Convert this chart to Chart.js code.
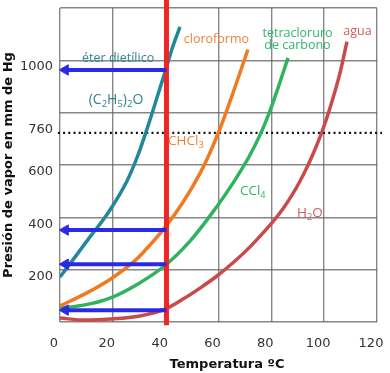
<!DOCTYPE html>
<html><head><meta charset="utf-8">
<script src="https://cdn.jsdelivr.net/npm/chart.js@4/dist/chart.umd.min.js"></script>
<style>html,body{margin:0;padding:0;background:#fff;}</style>
</head><body>
<canvas id="c" width="390" height="373"></canvas>
<script>
// ---- data ----
const tempTicks = [0, 20, 40, 60, 80, 100, 120];
const presTicks = [200, 400, 600, 760, 1000];

const etherTemp = [0, 5.68, 11.36, 18.17, 25.36, 29.53, 32.93, 35.96, 39.75, 42.39, 45.42];
const etherPres = [199, 275, 352, 443, 565, 664, 763, 858, 980, 1068, 1152];

const chloroTemp = [0, 9.46, 18.93, 27.63, 31.04, 39.75, 46.56, 52.99, 57.52, 61.31, 64.71, 67.74, 71.15];
const chloroPres = [89, 135, 190, 255, 288, 388, 484, 594, 690, 784, 878, 966, 1066];

const cclTemp = [0, 9.46, 18.93, 29.53, 39.75, 49.21, 56.78, 65.48, 71.92, 76.46, 79.49, 82.52, 86.31];
const cclPres = [81, 93, 119, 173, 243, 336, 432, 557, 664, 757, 832, 919, 1034];

const waterTemp = [0, 9.46, 18.93, 30.28, 39.75, 46.56, 53.0, 59.43, 66.24, 71.92, 76.84, 80.62, 84.41, 87.81, 90.84, 93.87, 96.52, 99.17, 102.2, 105.98, 108.63];
const waterPres = [43, 35, 39, 51, 77, 115, 157, 203, 260, 314, 367, 410, 459, 511, 564, 625, 685, 752, 843, 976, 1096];

const markerTemp = [40.3, 40.3];
const markerPres = [1262, 15];

const arrowPres = [988, 378, 248, 73];
const arrowTemp = [2.0, 40.3];

const refTemp = [-0.8, 121.9];
const refPres = [748, 748];

// ---- build ----
const pts = (xs, ys) => xs.map((x, i) => ({x, y: ys[i]}));
const BLUE = '#2a2ae2';
const GRID = 'rgba(95,95,95,0.75)';
const NONE = 'rgba(0,0,0,0)';

const curve = (label, xs, ys, color) => ({
  label, data: pts(xs, ys), borderColor: color, borderWidth: 3.5,
  pointRadius: 0, cubicInterpolationMode: 'monotone', yAxisID: 'y', order: 2
});

const datasets = [
  curve('ether', etherTemp, etherPres, '#22879a'),
  curve('chloroform', chloroTemp, chloroPres, '#f07a22'),
  curve('ccl4', cclTemp, cclPres, '#2fb35e'),
  curve('water', waterTemp, waterPres, '#c84a4a'),
  { label: 'marker', data: pts(markerTemp, markerPres), borderColor: '#ee2626', borderWidth: 5,
    pointRadius: 0, yAxisID: 'y', clip: false, order: 1 },
  { label: 'ref', data: pts(refTemp, refPres), borderColor: '#111', borderWidth: 2.2,
    borderDash: [2, 3.2], pointRadius: 0, yAxisID: 'y', clip: false, order: 3 },
  ...arrowPres.map(p => ({
    label: 'arrow', data: arrowTemp.map(t => ({x: t, y: p})), borderColor: BLUE, borderWidth: 4,
    pointRadius: [6, 0], pointStyle: 'triangle', pointRotation: -90,
    pointBackgroundColor: BLUE, pointBorderColor: BLUE, pointBorderWidth: 1,
    yAxisID: 'y', clip: false, order: 0
  }))
];

const annotations = [
  {parts: [['éter dietílico']], x: 22, y: 1018, color: '#2f8494', align: 'center', size: 12.5},
  {parts: [['(C'], ['2', 1], ['H'], ['5', 1], [')'], ['2', 1], ['O']], x: 21.2, y: 858, color: '#2f8494', align: 'center', size: 14},
  {parts: [['cloroformo']], x: 59.2, y: 1091, color: '#f0803a', align: 'center', size: 12.5},
  {parts: [['tetracloruro']], x: 89.9, y: 1113, color: '#2cb868', align: 'center', size: 12.5},
  {parts: [['de carbono']], x: 89.9, y: 1068, color: '#2cb868', align: 'center', size: 12.5},
  {parts: [['agua']], x: 112.6, y: 1121, color: '#d05c5c', align: 'center', size: 12.5},
  {parts: [['CHCl'], ['3', 1]], x: 40.9, y: 702, color: '#f0803a', align: 'left', size: 13.5},
  {parts: [['CCl'], ['4', 1]], x: 68.1, y: 512, color: '#2cb868', align: 'left', size: 13.5},
  {parts: [['H'], ['2', 1], ['O']], x: 89.7, y: 428, color: '#d05c5c', align: 'left', size: 13.5}
];

const textPlugin = {
  id: 'texts',
  afterDraw(chart) {
    const ctx = chart.ctx, xs = chart.scales.x, ys = chart.scales.y;
    ctx.save();
    ctx.textBaseline = 'alphabetic';
    for (const a of annotations) {
      const fam = '"Open Sans", sans-serif';
      const main = a.size + 'px ' + fam, sub = (a.size * 0.68).toFixed(1) + 'px ' + fam;
      let w = 0;
      for (const [t, s] of a.parts) { ctx.font = s ? sub : main; w += ctx.measureText(t).width; }
      let px = xs.getPixelForValue(a.x);
      const py = ys.getPixelForValue(a.y);
      if (a.align === 'center') px -= w / 2;
      ctx.fillStyle = a.color;
      ctx.textAlign = 'left';
      for (const [t, s] of a.parts) {
        ctx.font = s ? sub : main;
        ctx.fillText(t, px, py + (s ? a.size * 0.22 : 0));
        px += ctx.measureText(t).width;
      }
    }
    // axis titles
    ctx.fillStyle = '#111';
    ctx.font = 'bold 13px "DejaVu Sans", sans-serif';
    ctx.textAlign = 'center';
    ctx.fillText('Temperatura ºC', 227, 368);
    ctx.translate(12, 165);
    ctx.rotate(-Math.PI / 2);
    ctx.fillText('Presión de vapor en mm de Hg', 0, 0);
    ctx.restore();
  }
};

const tickFont = {family: '"DejaVu Sans", sans-serif', size: 13};

new Chart(document.getElementById('c'), {
  type: 'line',
  data: {datasets},
  options: {
    responsive: false, animation: false, devicePixelRatio: 1,
    layout: {autoPadding: false, padding: {top: 8, left: 0, right: 0, bottom: 0}},
    plugins: {legend: {display: false}, tooltip: {enabled: false}},
    scales: {
      x: {
        type: 'linear', min: 0, max: 120,
        afterBuildTicks: s => { s.ticks = tempTicks.map(v => ({value: v})); },
        afterFit: s => { s.height = 51; },
        grid: {color: GRID, lineWidth: 1.4, drawTicks: true, tickLength: 14, tickColor: NONE},
        border: {display: false},
        ticks: {font: tickFont, color: '#333', padding: 0, labelOffset: -6, maxRotation: 0, autoSkip: false,
                callback: v => String(v)}
      },
      y: {
        type: 'linear', position: 'left', min: 27.8, max: 1224,
        afterBuildTicks: s => { s.ticks = presTicks.map(v => ({value: v})); },
        afterFit: s => { s.width = 60; },
        grid: {display: true, color: NONE, drawTicks: true, tickLength: 7, tickColor: NONE},
        border: {display: false},
        ticks: {font: tickFont, color: '#333', padding: 0, autoSkip: false, callback: v => String(v)}
      },
      yg: {
        type: 'linear', position: 'right', min: 0, max: 1200,
        afterFit: s => { s.width = 13; },
        ticks: {display: false, stepSize: 200},
        grid: {color: GRID, lineWidth: 1.4, drawTicks: false},
        border: {display: false}
      }
    }
  },
  plugins: [textPlugin]
});
</script>
</body></html>
